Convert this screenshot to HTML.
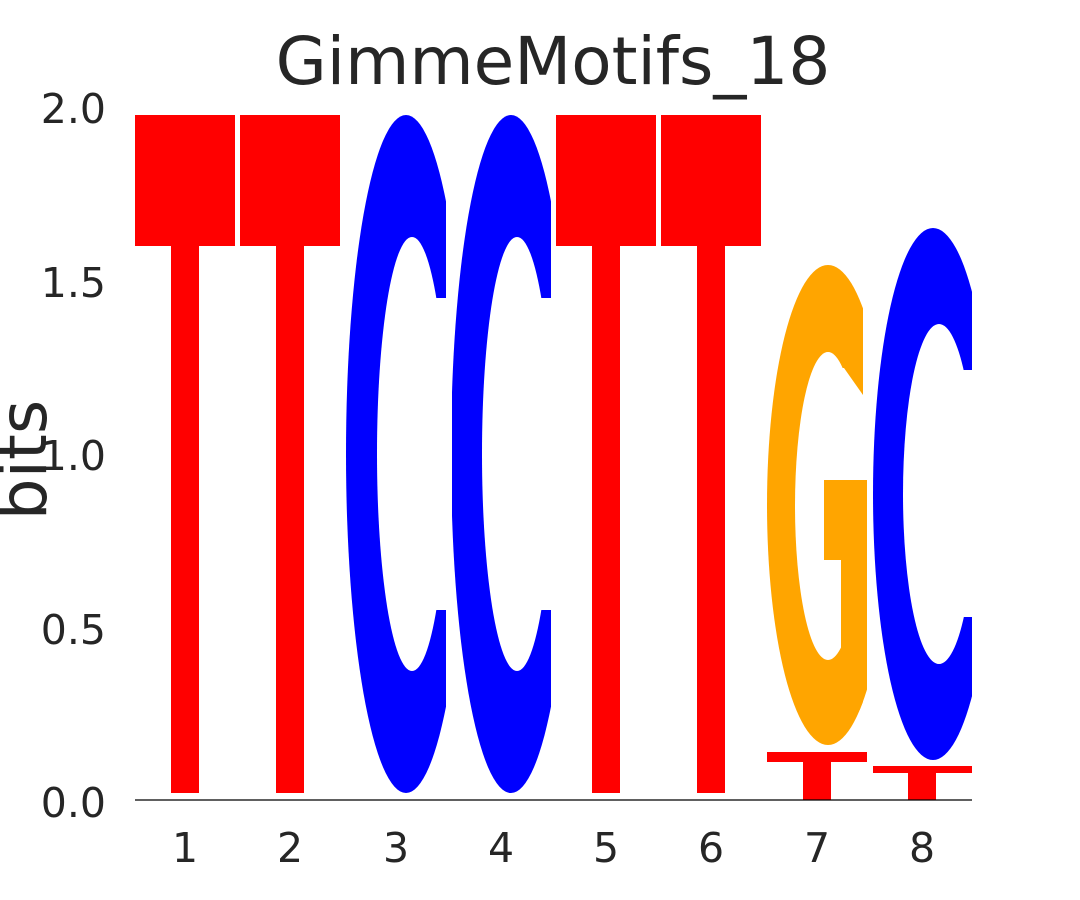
<!DOCTYPE html>
<html><head><meta charset="utf-8"><style>html,body{margin:0;padding:0;background:#fff}svg{display:block}</style></head>
<body>
<svg width="1080" height="900" viewBox="0 0 1080 900" xmlns="http://www.w3.org/2000/svg" font-family="'DejaVu Sans','Liberation Sans',sans-serif">
<defs>
<clipPath id="c3"><rect x="346" y="100" width="100" height="700"/></clipPath>
<clipPath id="c4"><rect x="452" y="100" width="99" height="700"/></clipPath>
<clipPath id="c7"><rect x="767" y="250" width="96" height="500"/></clipPath>
<clipPath id="c8"><rect x="873" y="200" width="99" height="570"/></clipPath>
<clipPath id="g7o"><ellipse cx="828" cy="505" rx="61" ry="240"/></clipPath>
</defs>
<rect width="1080" height="900" fill="#fff"/>
<text x="553" y="84" font-size="66" text-anchor="middle" fill="#262626">GimmeMotifs_18</text>
<text transform="translate(46,460) rotate(-90)" font-size="66" text-anchor="middle" fill="#262626">bits</text>
<g font-size="41" fill="#262626" text-anchor="end">
<text x="106" y="123">2.0</text><text x="106" y="297">1.5</text><text x="106" y="470">1.0</text><text x="106" y="644">0.5</text><text x="106" y="817">0.0</text>
</g>
<g font-size="41" fill="#262626" text-anchor="middle">
<text x="185" y="862">1</text><text x="290" y="862">2</text><text x="396" y="862">3</text><text x="501" y="862">4</text><text x="606" y="862">5</text><text x="711" y="862">6</text><text x="817" y="862">7</text><text x="922" y="862">8</text>
</g>
<g fill="#ff0000">
<rect x="135" y="115" width="100" height="131"/><rect x="171" y="246" width="28" height="547"/>
<rect x="240" y="115" width="100" height="131"/><rect x="276" y="246" width="28" height="547"/>
<rect x="556" y="115" width="100" height="131"/><rect x="592" y="246" width="28" height="547"/>
<rect x="661" y="115" width="100" height="131"/><rect x="697" y="246" width="28" height="547"/>
<rect x="767" y="752" width="100" height="10"/><rect x="803" y="762" width="28" height="38"/>
<rect x="873" y="766" width="99" height="7"/><rect x="908" y="773" width="28" height="27"/>
</g>
<g clip-path="url(#c3)">
<ellipse cx="406" cy="454" rx="60" ry="339" fill="#0000ff"/>
<ellipse cx="412" cy="454" rx="35" ry="217" fill="#fff"/>
<rect x="412" y="298" width="40" height="312" fill="#fff"/>
</g>
<g clip-path="url(#c4)">
<ellipse cx="511" cy="454" rx="60" ry="339" fill="#0000ff"/>
<ellipse cx="517" cy="454" rx="35" ry="217" fill="#fff"/>
<rect x="517" y="298" width="40" height="312" fill="#fff"/>
</g>
<g clip-path="url(#c7)">
<ellipse cx="828" cy="505" rx="61" ry="240" fill="#ffa500"/>
<ellipse cx="828" cy="506" rx="33" ry="154" fill="#fff"/>
<polygon points="828,368 844,368 863,395 870,395 870,480 828,480" fill="#fff"/>
</g>
<rect x="824" y="480" width="43" height="80" fill="#ffa500"/>
<g clip-path="url(#g7o)"><rect x="841" y="480" width="26" height="230" fill="#ffa500"/></g>
<g clip-path="url(#c8)">
<ellipse cx="933" cy="494" rx="60" ry="266" fill="#0000ff"/>
<ellipse cx="939" cy="494" rx="36" ry="170" fill="#fff"/>
<rect x="939" y="370" width="40" height="247" fill="#fff"/>
</g>
<line x1="135" y1="800" x2="972" y2="800" stroke="#000" stroke-width="1.2"/>
</svg>
</body></html>
